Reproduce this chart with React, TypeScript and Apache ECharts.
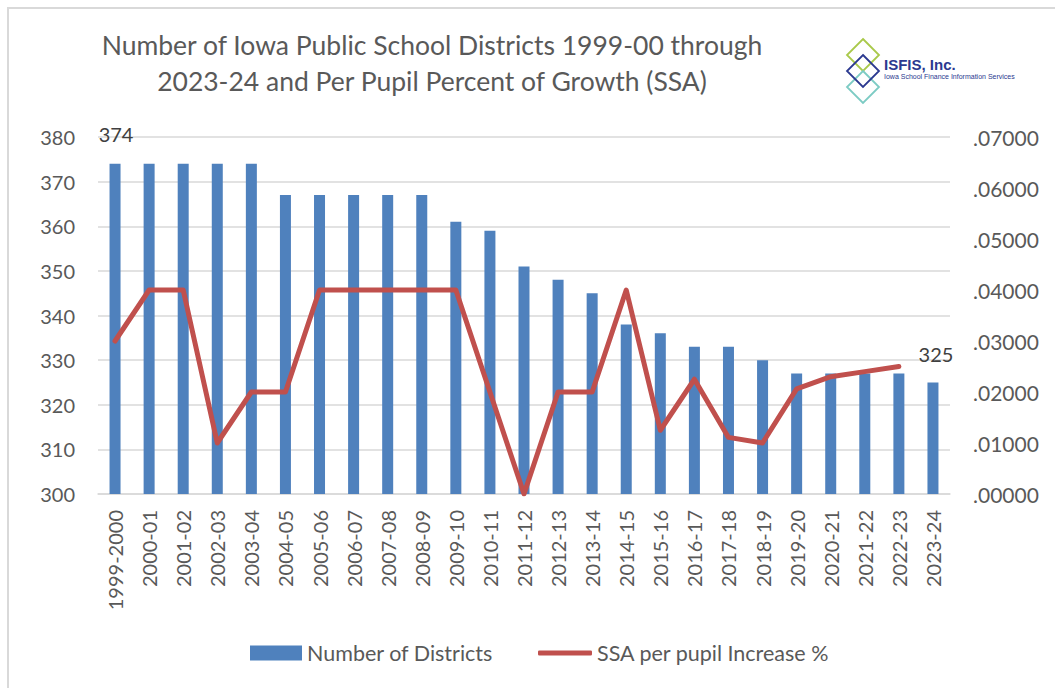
import React, { useEffect, useRef } from "react";
import * as echarts from "echarts";

const categories = [
  "1999-2000", "2000-01", "2001-02", "2002-03", "2003-04", "2004-05", "2005-06",
  "2006-07", "2007-08", "2008-09", "2009-10", "2010-11", "2011-12", "2012-13",
  "2013-14", "2014-15", "2015-16", "2016-17", "2017-18", "2018-19", "2019-20",
  "2020-21", "2021-22", "2022-23", "2023-24",
];
const districts = [
  374, 374, 374, 374, 374, 367, 367, 367, 367, 367, 361, 359, 351, 348, 345,
  338, 336, 333, 333, 330, 327, 327, 327, 327, 325,
];
const ssaIncrease = [
  0.03, 0.04, 0.04, 0.01, 0.02, 0.02, 0.04, 0.04, 0.04, 0.04, 0.04, 0.02, 0.0,
  0.02, 0.02, 0.04, 0.0125, 0.0225, 0.0111, 0.01, 0.0206, 0.023, 0.024, 0.025,
];
const leftTicks = { min: 300, max: 380, interval: 10 };
const rightTicks = { min: 0, max: 0.07, interval: 0.01 };

const FONT = "Lato, 'Open Sans', sans-serif";
const GRAY = "#595959";

export default function App() {
  const ref = useRef<HTMLDivElement>(null);
  useEffect(() => {
    if (!ref.current) return;
    const chart = echarts.init(ref.current, undefined, { renderer: "svg" });
    const last = districts.length - 1;
    const diamond = (cx: number, cy: number, r: number) => [
      [cx, cy - r], [cx + r, cy], [cx, cy + r], [cx - r, cy],
    ];
    chart.setOption({
      animation: false,
      textStyle: { fontFamily: FONT },
      title: {
        text: "Number of Iowa Public School Districts 1999-00 through\n2023-24 and Per Pupil Percent of Growth (SSA)",
        left: 427,
        top: 22,
        textAlign: "center",
        textStyle: { fontFamily: FONT, fontSize: 26.5, fontWeight: "normal", color: GRAY, lineHeight: 36 },
      },
      legend: [
        {
          top: 637,
          left: 245,
          itemWidth: 52,
          itemHeight: 15,
          textStyle: { fontFamily: FONT, fontSize: 21.5, color: GRAY },
          data: [{ name: "Number of Districts", icon: "rect" }],
        },
        {
          top: 637,
          left: 533,
          itemWidth: 54,
          itemHeight: 5,
          textStyle: { fontFamily: FONT, fontSize: 21.5, color: GRAY },
          data: [{ name: "SSA per pupil Increase %", icon: "roundRect", itemStyle: { color: "#c0504d" } }],
        },
      ],
      grid: { left: 98, right: 1055 - 950, top: 137, bottom: 688 - 494, containLabel: false },
      xAxis: {
        type: "category",
        data: categories,
        axisLine: { show: true, lineStyle: { color: "#d9d9d9", width: 1.5 } },
        axisTick: { show: false },
        axisLabel: { rotate: 90, fontSize: 20, color: GRAY, margin: 16, interval: 0, fontFamily: FONT },
      },
      yAxis: [
        {
          type: "value",
          ...leftTicks,
          axisLine: { show: false },
          axisTick: { show: false },
          splitLine: { lineStyle: { color: "#d9d9d9", width: 1.5 } },
          axisLabel: { fontSize: 20, color: GRAY, margin: 23, fontFamily: FONT },
        },
        {
          type: "value",
          ...rightTicks,
          position: "right",
          axisLine: { show: false },
          axisTick: { show: false },
          splitLine: { show: false },
          axisLabel: {
            fontSize: 21,
            color: GRAY,
            margin: 23,
            fontFamily: FONT,
            formatter: (v: number) => v.toFixed(5).replace(/^0/, ""),
          },
        },
      ],
      series: [
        {
          name: "Number of Districts",
          type: "bar",
          barWidth: 11,
          itemStyle: { color: "#4f81bd" },
          data: districts.map((v, i) => ({
            value: v,
            label: {
              show: i === 0 || i === last,
              position: "top",
              distance: i === 0 ? 20 : 18,
              fontSize: 20,
              color: "#404040",
              fontFamily: FONT,
              offset: i === 0 ? [1, 0] : [3, 0],
            },
          })),
          z: 1,
        },
        {
          name: "SSA per pupil Increase %",
          type: "line",
          yAxisIndex: 1,
          symbol: "none",
          lineStyle: { color: "#c0504d", width: 5, cap: "round", join: "round" },
          itemStyle: { color: "#c0504d" },
          data: ssaIncrease,
          z: 3,
        },
      ],
      graphic: [
        {
          type: "rect",
          shape: { x: 8, y: 8, width: 1200, height: 800 },
          style: { fill: "none", stroke: "#d9d9d9", lineWidth: 2 },
          silent: true,
        },
        {
          type: "polygon",
          shape: { points: diamond(863, 55, 16) },
          style: { fill: "none", stroke: "#a9c94a", lineWidth: 1.8 },
        },
        {
          type: "polygon",
          shape: { points: diamond(863, 87, 16) },
          style: { fill: "none", stroke: "#7ccbc4", lineWidth: 1.8 },
        },
        {
          type: "polygon",
          shape: { points: diamond(863, 71, 16) },
          style: { fill: "none", stroke: "#2b3990", lineWidth: 1.8 },
        },
        {
          type: "text",
          x: 884,
          y: 57,
          style: { text: "ISFIS, Inc.", fill: "#2b3990", font: "bold 15px Arial, 'Liberation Sans', sans-serif" },
        },
        {
          type: "text",
          x: 884,
          y: 73,
          style: { text: "Iowa School Finance Information Services", fill: "#2b3990", font: "7px Arial, 'Liberation Sans', sans-serif" },
        },
      ],
    });
    return () => chart.dispose();
  }, []);
  return (
    <div
      ref={ref}
      style={{ position: "fixed", left: 0, top: 0, width: 1055, height: 688, background: "#fff" }}
    />
  );
}
